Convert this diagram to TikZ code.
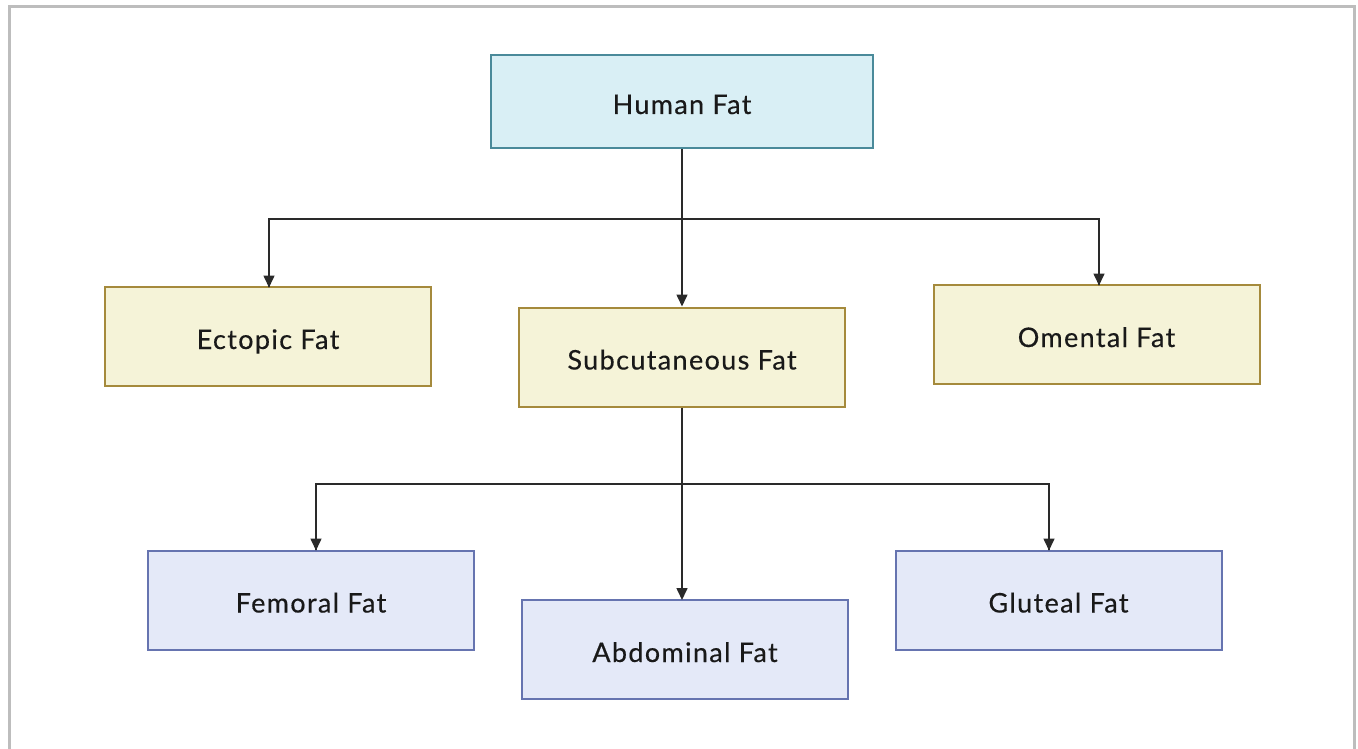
\documentclass[tikz,border=0pt]{standalone}
\usepackage{fontspec}
\setmainfont{Lato}[LetterSpace=5,FakeBold=0.4]
\usetikzlibrary{arrows.meta}
\definecolor{topfill}{HTML}{D9EFF5}
\definecolor{topdraw}{HTML}{4A8A9A}
\definecolor{midfill}{HTML}{F5F3D8}
\definecolor{middraw}{HTML}{A58A3C}
\definecolor{lowfill}{HTML}{E4E9F8}
\definecolor{lowdraw}{HTML}{6674B0}
\definecolor{framegray}{HTML}{BDBDBD}
\definecolor{linecol}{HTML}{2A2A2A}
\tikzset{
  box/.style={draw, line width=2pt, minimum width=326pt, minimum height=99pt, inner sep=0pt, text height=25pt, text depth=0pt, font=\fontsize{27}{32}\selectfont, text=black!90},
  topbox/.style={box, fill=topfill, draw=topdraw, minimum width=382pt, minimum height=93pt},
  midbox/.style={box, fill=midfill, draw=middraw},
  lowbox/.style={box, fill=lowfill, draw=lowdraw},
  conn/.style={draw=linecol, line width=1.6pt},
  arr/.style={conn, -{Triangle[length=12pt, width=11pt]}}
}
\begin{document}
\begin{tikzpicture}[x=1pt, y=-1pt]
\useasboundingbox (0,0) rectangle (1358,749);
\begin{scope}
\clip (0,0) rectangle (1358,749);
\draw[framegray, line width=3pt] (9,780) -- (9,7) -- (1354,7) -- (1354,780);
\end{scope}
\node[topbox] (human) at (682,101.5) {Human Fat};
\node[midbox] (ectopic) at (268,336.5) {Ectopic Fat};
\node[midbox] (subcut) at (682,357) {Subcutaneous Fat};
\node[midbox] (omental) at (1096.5,334.5) {Omental Fat};
\node[lowbox] (femoral) at (311,600) {Femoral Fat};
\node[lowbox] (abdominal) at (685,649.5) {Abdominal Fat};
\node[lowbox] (gluteal) at (1058.5,600) {Gluteal Fat};
\coordinate (j1) at (682,219);
\coordinate (j2) at (682,484);
\draw[conn] (human.south) -- (j1);
\draw[arr] (j1) -| (269,287) -- (269,287.5);
\draw[arr] (j1) -- (subcut.north);
\draw[arr] (j1) -| (1099,285) -- (1099,285.5);
\draw[conn] (subcut.south) -- (j2);
\draw[arr] (j2) -| (316,550) -- (316,550.5);
\draw[arr] (j2) -- (682,600);
\draw[arr] (j2) -| (1049,550) -- (1049,550.5);
\end{tikzpicture}
\end{document}
